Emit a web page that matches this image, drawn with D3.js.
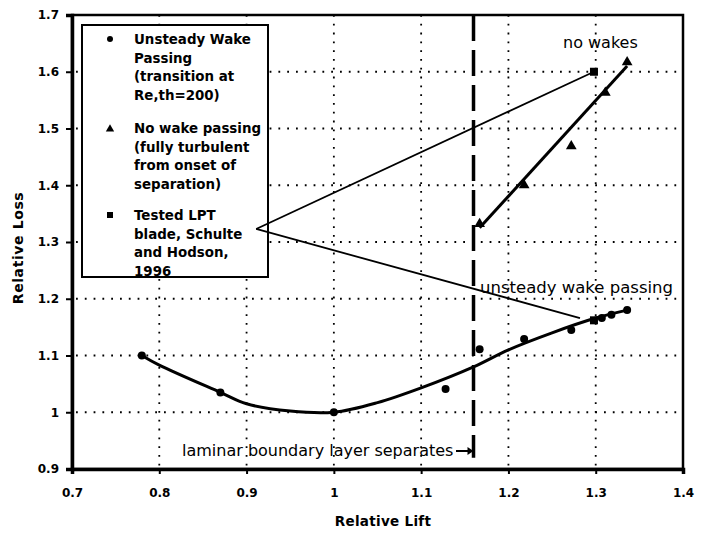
<!DOCTYPE html>
<html>
<head>
<meta charset="utf-8">
<script src="https://cdn.jsdelivr.net/npm/d3@7"></script>
<style>
    body { margin: 0; background: #fff; }
    svg { display: block; font-family: "DejaVu Sans", Arial, sans-serif; }
</style>
</head>
<body>
<div id="chart"></div>
<script>
// unsteady wake passing (circles)
const unsteadyX = [0.78, 0.87, 1.0, 1.128, 1.167, 1.218, 1.272, 1.307, 1.318, 1.336];
const unsteadyY = [1.10, 1.035, 1.0, 1.041, 1.111, 1.129, 1.145, 1.166, 1.172, 1.18];
// no wake passing (triangles)
const noWakeX = [1.167, 1.218, 1.272, 1.311, 1.336];
const noWakeY = [1.332, 1.40, 1.469, 1.563, 1.617];
// tested LPT blade (squares)
const testedX = [1.298, 1.298];
const testedY = [1.60, 1.162];
// hand fitted curves
const fitUnsteadyX = [0.78, 0.8, 0.87, 0.9, 0.95, 1.0, 1.05, 1.1, 1.16, 1.2, 1.25, 1.3, 1.336];
const fitUnsteadyY = [1.10, 1.083, 1.035, 1.015, 1.002, 1.0, 1.017, 1.043, 1.08, 1.11, 1.14, 1.166, 1.18];
const fitNoWakeX = [1.167, 1.336];
const fitNoWakeY = [1.325, 1.61];

const xTicks = [0.7, 0.8, 0.9, 1.0, 1.1, 1.2, 1.3, 1.4];
const yTicks = [0.9, 1.0, 1.1, 1.2, 1.3, 1.4, 1.5, 1.6, 1.7];
const separationX = 1.16;

const legendLines = [
    ['Unsteady Wake', 'Passing', '(transition at', 'Re,th=200)'],
    ['No wake passing', '(fully turbulent', 'from onset of', 'separation)'],
    ['Tested LPT', 'blade, Schulte', 'and Hodson,', '1996']
];

const width = 704, height = 533;
const margin = { top: 15, right: 21, bottom: 64, left: 72 };

const svg = d3.select('#chart').append('svg')
    .attr('width', width)
    .attr('height', height);

const x = d3.scaleLinear().domain([0.7, 1.4]).range([margin.left, width - margin.right]);
const y = d3.scaleLinear().domain([0.9, 1.7]).range([height - margin.bottom, margin.top]);

// dotted grid
const grid = svg.append('g')
    .attr('stroke', '#000')
    .attr('stroke-width', 1.8)
    .attr('stroke-dasharray', '1.8,7');

grid.selectAll('line.h')
    .data(yTicks.slice(1, -1))
    .join('line')
    .attr('class', 'h')
    .attr('x1', x(0.7) + 4).attr('x2', x(1.4))
    .attr('y1', d => y(d)).attr('y2', d => y(d));

grid.selectAll('line.v')
    .data(xTicks.slice(1, -1))
    .join('line')
    .attr('class', 'v')
    .attr('y1', y(1.7)).attr('y2', y(0.9))
    .attr('x1', d => x(d)).attr('x2', d => x(d));

// frame
svg.append('rect')
    .attr('x', x(0.7)).attr('y', y(1.7))
    .attr('width', x(1.4) - x(0.7))
    .attr('height', y(0.9) - y(1.7))
    .attr('fill', 'none')
    .attr('stroke', '#000')
    .attr('stroke-width', 2.5);

// axes
const xAxis = svg.append('g')
    .attr('transform', `translate(0,${y(0.9)})`)
    .call(d3.axisBottom(x).tickValues(xTicks).tickSize(5).tickPadding(14).tickFormat(d3.format('')));
const yAxis = svg.append('g')
    .attr('transform', `translate(${x(0.7)},0)`)
    .call(d3.axisLeft(y).tickValues(yTicks).tickSize(6).tickPadding(7).tickFormat(d3.format('')));

[xAxis, yAxis].forEach(a => {
    a.select('.domain').attr('stroke-width', 3.5);
    a.selectAll('.tick line').attr('stroke-width', 2);
    a.selectAll('.tick text')
        .attr('font-size', 12)
        .attr('font-weight', 'bold')
        .attr('fill', '#000')
        .attr('font-family', '"DejaVu Sans", Arial, sans-serif');
});

svg.append('text')
    .attr('x', 383).attr('y', 526)
    .attr('text-anchor', 'middle')
    .attr('font-size', 13.5)
    .attr('font-weight', 'bold')
    .attr('letter-spacing', 0.3)
    .text('Relative Lift');

svg.append('text')
    .attr('transform', 'translate(23,248) rotate(-90)')
    .attr('text-anchor', 'middle')
    .attr('font-size', 14)
    .attr('font-weight', 'bold')
    .attr('letter-spacing', 0.6)
    .text('Relative Loss');

// separation line
svg.append('line')
    .attr('x1', x(separationX)).attr('x2', x(separationX))
    .attr('y1', y(1.7)).attr('y2', y(0.92))
    .attr('stroke', '#000')
    .attr('stroke-width', 3.5)
    .attr('stroke-dasharray', '26,9');

// fitted curves
const line = d3.line().x(d => x(d[0])).y(d => y(d[1]));
svg.append('path')
    .datum(d3.zip(fitUnsteadyX, fitUnsteadyY))
    .attr('d', line.curve(d3.curveCatmullRom))
    .attr('fill', 'none')
    .attr('stroke', '#000')
    .attr('stroke-width', 3);
svg.append('path')
    .datum(d3.zip(fitNoWakeX, fitNoWakeY))
    .attr('d', d3.line().x(d => x(d[0])).y(d => y(d[1])))
    .attr('fill', 'none')
    .attr('stroke', '#000')
    .attr('stroke-width', 3);

// markers
svg.append('g').selectAll('circle')
    .data(d3.zip(unsteadyX, unsteadyY))
    .join('circle')
    .attr('cx', d => x(d[0])).attr('cy', d => y(d[1]))
    .attr('r', 4);

const tri = d3.symbol().type(d3.symbolTriangle).size(50);
svg.append('g').selectAll('path')
    .data(d3.zip(noWakeX, noWakeY))
    .join('path')
    .attr('transform', d => `translate(${x(d[0])},${y(d[1])})`)
    .attr('d', tri);

svg.append('g').selectAll('rect')
    .data(d3.zip(testedX, testedY))
    .join('rect')
    .attr('x', d => x(d[0]) - 4).attr('y', d => y(d[1]) - 4)
    .attr('width', 8).attr('height', 8);

// legend
const legend = svg.append('g');
legend.append('rect')
    .attr('x', 82).attr('y', 25)
    .attr('width', 186).attr('height', 252)
    .attr('fill', '#fff')
    .attr('stroke', '#000')
    .attr('stroke-width', 2);

const legendTop = [39, 128, 215];
legendLines.forEach((lines, i) => {
    lines.forEach((t, j) => {
        legend.append('text')
            .attr('x', 134).attr('y', legendTop[i] + j * 18.5 + 5)
            .attr('font-size', 13.4)
            .attr('font-weight', 'bold')
            .text(t);
    });
});
legend.append('circle').attr('cx', 110).attr('cy', legendTop[0]).attr('r', 3);
legend.append('path').attr('transform', `translate(110,${legendTop[1] + 1})`)
    .attr('d', d3.symbol().type(d3.symbolTriangle).size(30));
legend.append('rect').attr('x', 107).attr('y', legendTop[2] - 3).attr('width', 6).attr('height', 6);

// pointer lines from legend to tested blade
const apex = [0.911, 1.323];
const pointerEnds = [[1.298, 1.60], [1.282, 1.166]];
svg.append('g').selectAll('line')
    .data(pointerEnds)
    .join('line')
    .attr('x1', x(apex[0])).attr('y1', y(apex[1]))
    .attr('x2', d => x(d[0])).attr('y2', d => y(d[1]))
    .attr('stroke', '#000')
    .attr('stroke-width', 1.8);

// annotations
svg.append('text')
    .attr('x', 563).attr('y', 48)
    .attr('font-size', 16)
    .text('no wakes');

svg.append('text')
    .attr('x', 480).attr('y', 293)
    .attr('font-size', 16.5)
    .text('unsteady wake passing');

svg.append('text')
    .attr('x', 182).attr('y', 456)
    .attr('font-size', 16)
    .text('laminar boundary layer separates');
svg.append('line')
    .attr('x1', 456).attr('x2', x(separationX))
    .attr('y1', 451).attr('y2', 451)
    .attr('stroke', '#000')
    .attr('stroke-width', 2);
svg.append('path')
    .attr('d', `M${x(separationX) - 6},447L${x(separationX)},451L${x(separationX) - 6},455Z`);
</script>
</body>
</html>
